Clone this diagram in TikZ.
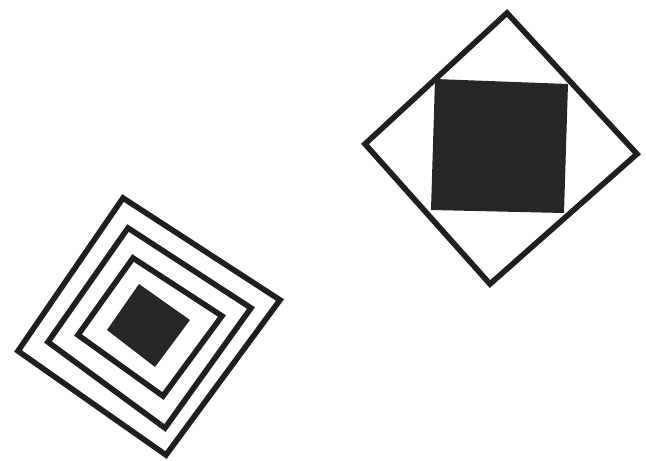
\documentclass[tikz,border=0pt]{standalone}
\begin{document}
\begin{tikzpicture}[x=1pt,y=-1pt,
  frame/.style={draw=black!88,line width=5.6pt,line join=miter},
  solid square/.style={fill=black!85,draw=none}]
\useasboundingbox (0,0) rectangle (646,461);
% right figure
\draw[frame] (507,13) coordinate (rt) -- (637,154) coordinate (rr) -- (490,284) coordinate (rb) -- (365,144) coordinate (rl) -- cycle;
\fill[solid square] (435,79) coordinate (s1) -- (568,84) coordinate (s2) -- (564,213) coordinate (s3) -- (431,210) coordinate (s4) -- cycle;
% left figure
\draw[frame] (123,198) coordinate (a1) -- (280,300) coordinate (a2) -- (166,455) coordinate (a3) -- (18,351) coordinate (a4) -- cycle;
\draw[frame] (128,228) coordinate (b1) -- (251,308) coordinate (b2) -- (165,428) coordinate (b3) -- (48,342) coordinate (b4) -- cycle;
\draw[frame] (133,258) coordinate (c1) -- (222,316) coordinate (c2) -- (163,396) coordinate (c3) -- (78,335) coordinate (c4) -- cycle;
\fill[solid square] (139,284) coordinate (d1) -- (190,320) coordinate (d2) -- (155,367) coordinate (d3) -- (107,330) coordinate (d4) -- cycle;
\end{tikzpicture}
\end{document}
